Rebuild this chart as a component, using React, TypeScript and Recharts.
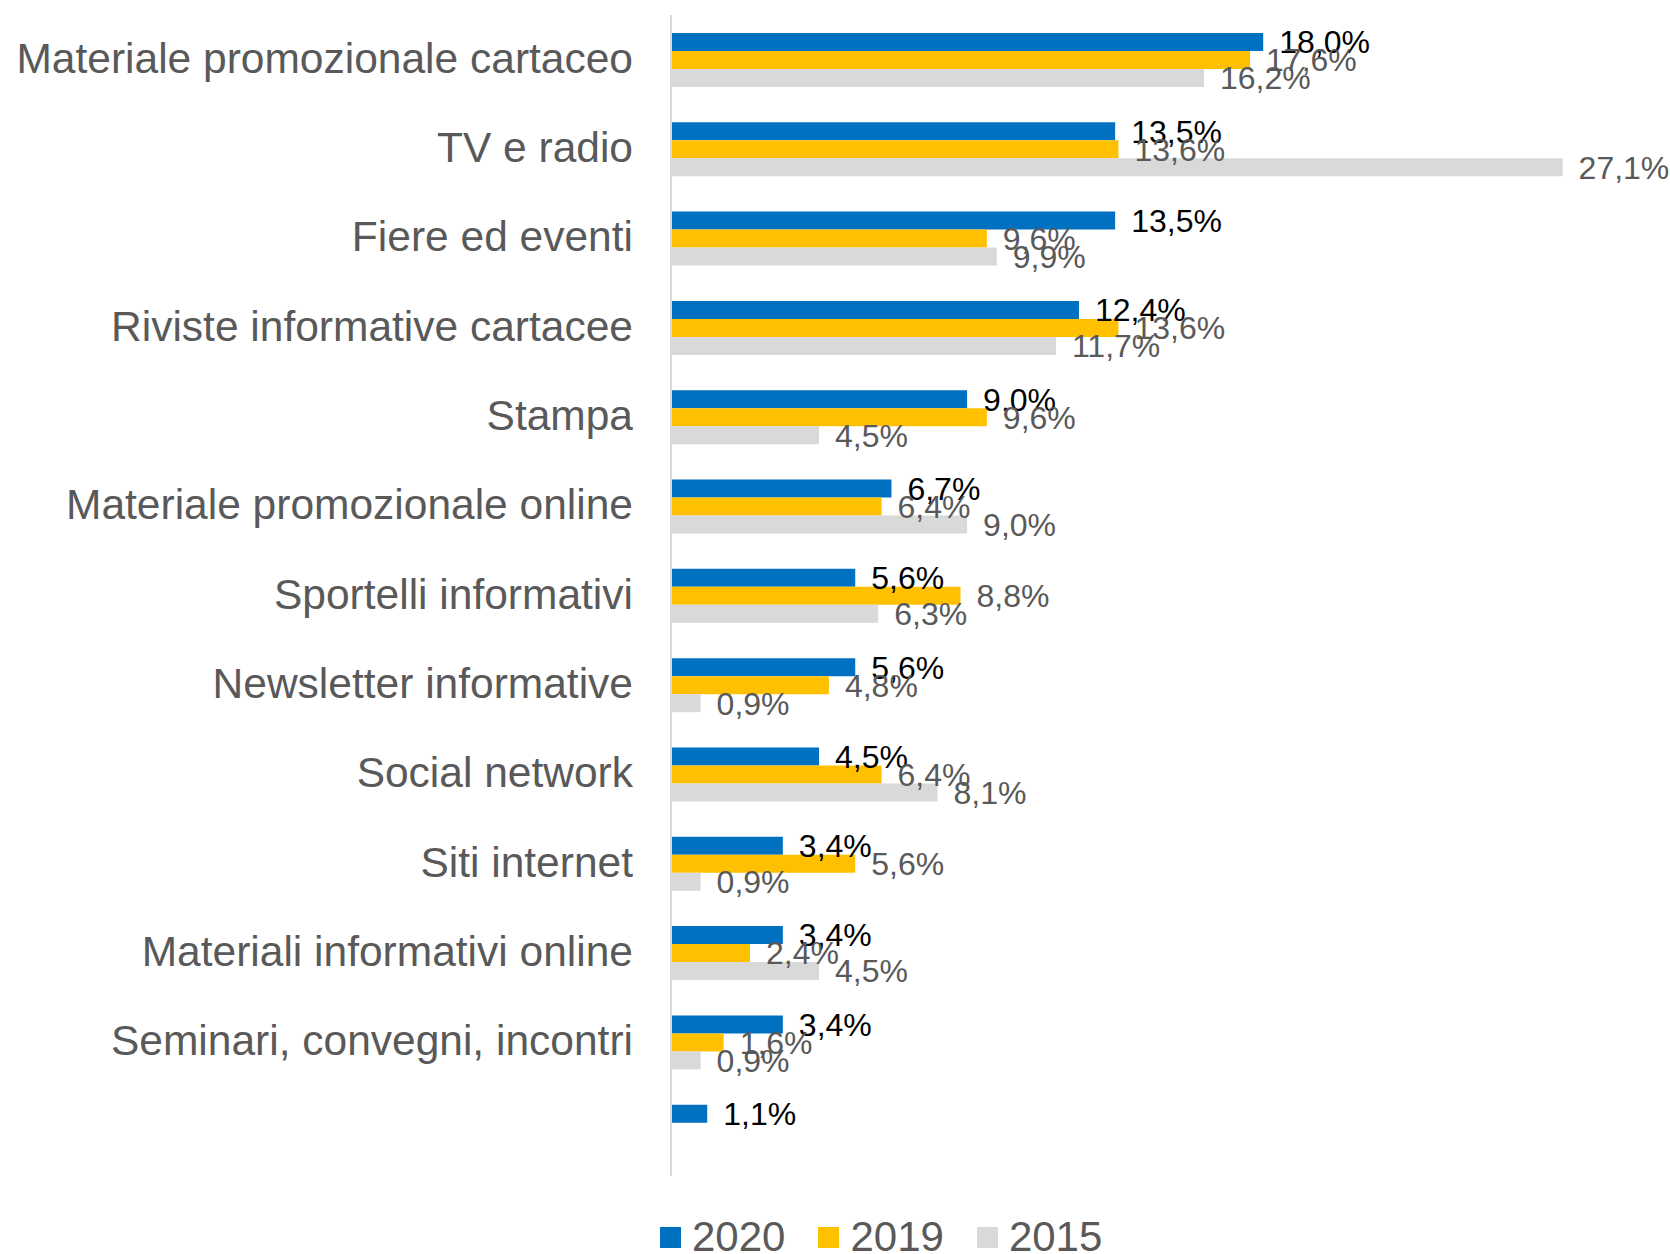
import React from 'react';
import { BarChart, Bar, XAxis, YAxis, LabelList } from 'recharts';

const categories = [
  'Materiale promozionale cartaceo',
  'TV e radio',
  'Fiere ed eventi',
  'Riviste informative cartacee',
  'Stampa',
  'Materiale promozionale online',
  'Sportelli informativi',
  'Newsletter informative',
  'Social network',
  'Siti internet',
  'Materiali informativi online',
  'Seminari, convegni, incontri',
  '',
];

const values2020 = [18.0, 13.5, 13.5, 12.4, 9.0, 6.7, 5.6, 5.6, 4.5, 3.4, 3.4, 3.4, 1.1];
const values2019 = [17.6, 13.6, 9.6, 13.6, 9.6, 6.4, 8.8, 4.8, 6.4, 5.6, 2.4, 1.6, null];
const values2015 = [16.2, 27.1, 9.9, 11.7, 4.5, 9.0, 6.3, 0.9, 8.1, 0.9, 4.5, 0.9, null];

const series = [
  { key: 'y2020', name: '2020', color: '#0070C0', labelColor: '#000000' },
  { key: 'y2019', name: '2019', color: '#FFC000', labelColor: '#595959' },
  { key: 'y2015', name: '2015', color: '#D9D9D9', labelColor: '#595959' },
];

const data = categories.map((name, i) => ({
  name,
  y2020: values2020[i],
  y2019: values2019[i],
  y2015: values2015[i],
}));

const font = '"Liberation Sans", Arial, sans-serif';

const fmt = (v: any) =>
  v === null || v === undefined ? '' : `${Number(v).toFixed(1).replace('.', ',')}%`;

export default function App() {
  return (
    <div
      style={{
        position: 'absolute',
        left: 0,
        top: 0,
        width: 1670,
        height: 1254,
        background: '#fff',
        fontFamily: font,
        overflow: 'hidden',
      }}
    >
      <BarChart
        width={1670}
        height={1254}
        data={data}
        layout="vertical"
        margin={{ top: 15, right: 12, left: 0, bottom: 78 }}
        barGap={0}
        barSize={18}
      >
        <XAxis type="number" domain={[0, 30]} hide />
        <YAxis
          type="category"
          dataKey="name"
          width={671}
          tickLine={false}
          tickSize={0}
          tickMargin={38}
          axisLine={{ stroke: '#D9D9D9', strokeWidth: 2 }}
          tick={{ fill: '#595959', fontSize: 42.5, fontFamily: font, dy: -2 }}
          interval={0}
        />
        {series.map((s) => (
          <Bar key={s.key} dataKey={s.key} name={s.name} fill={s.color} isAnimationActive={false}>
            <LabelList
              dataKey={s.key}
              position="right"
              offset={16}
              formatter={fmt}
              style={{ fill: s.labelColor, fontSize: 32, fontFamily: font }}
            />
          </Bar>
        ))}
      </BarChart>
      <div
        style={{
          position: 'absolute',
          left: 660,
          top: 1216,
          display: 'flex',
          alignItems: 'center',
          height: 42,
          fontSize: 42,
          lineHeight: '42px',
          color: '#595959',
        }}
      >
        {series.map((s, i) => (
          <div key={s.key} style={{ display: 'flex', alignItems: 'center', marginRight: i < series.length - 1 ? 33 : 0 }}>
            <span style={{ display: 'inline-block', width: 21, height: 21, background: s.color, marginRight: 11 }} />
            <span>{s.name}</span>
          </div>
        ))}
      </div>
    </div>
  );
}
